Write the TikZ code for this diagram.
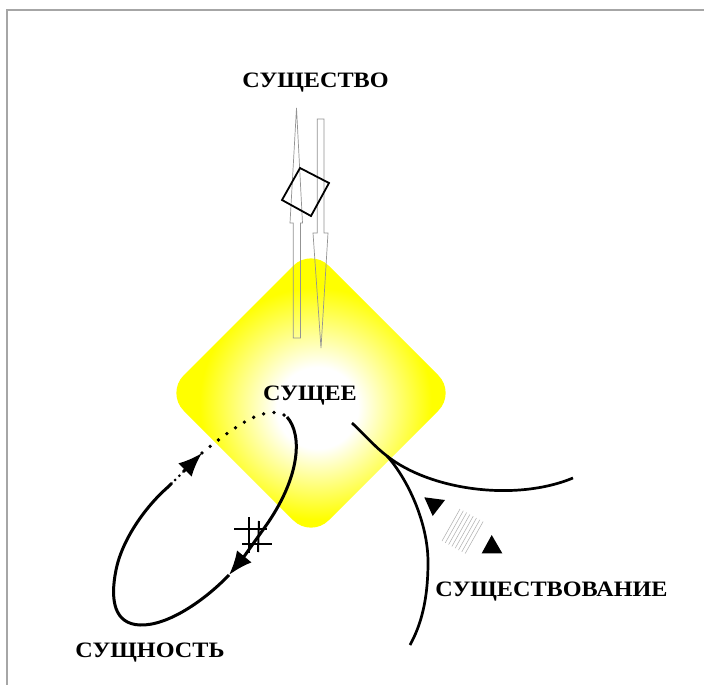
\documentclass[tikz,border=0pt]{standalone}
\usepackage{fontspec}
\setmainfont{Liberation Serif}
\usetikzlibrary{arrows.meta}
\pgfdeclareradialshading{diamshade}{\pgfpoint{1.3bp}{-3.0bp}}{color(0bp)=(white); color(7bp)=(white); color(20bp)=(yellow); color(50bp)=(yellow)}
\tikzset{
  lbl/.style={font=\bfseries\fontsize{22}{22}\selectfont, anchor=base, inner sep=0pt, xscale=1.1},
  needle/.style={draw=gray!85, line width=0.7pt},
  curve/.style={line width=3pt, black},
  hashline/.style={line width=2pt, black},
  tri/.style={fill=black, draw=none},
  hatch/.style={draw=gray!65, line width=0.5pt},
  bigtip/.style={-{Latex[length=24pt,width=19pt]}}
}
\begin{document}
\begin{tikzpicture}[x=1pt,y=-1pt]
\useasboundingbox (0,0) rectangle (704,685);
\fill[white] (0,0) rectangle (704,685);
% frame
\draw[gray!70, line width=1.4pt] (7,685) -- (7,10) -- (704,10);
% diamond
\shade[shading=diamshade, rounded corners=25pt]
  (311,248) -- (456,393) -- (311,538) -- (166,393) -- cycle;
% needles
\draw[needle] (296.5,108) -- (302.5,223) -- (300.5,223) -- (300.5,338) -- (293.3,338) -- (293.3,223) -- (290,223) -- cycle;
\draw[needle] (317.3,119) -- (324,119) -- (324,233) -- (328,233) -- (321,348) -- (313,233) -- (317.3,233) -- cycle;
% rotated square
\draw[line width=1.8pt] (300,168) -- (329,183) -- (311,216) -- (282,200) -- cycle;
% labels
\node[lbl] (sushchestvo) at (315.5,87) {СУЩЕСТВО};
\node[lbl] (sushchee) at (310,400) {СУЩЕЕ};
\node[lbl] (sushchnost) at (150,657) {СУЩНОСТЬ};
\node[lbl] (sushchestvovanie) at (551.5,596) {СУЩЕСТВОВАНИЕ};
% loop
\coordinate (l0) at (287,417);
\coordinate (l1) at (229,575);
\coordinate (l2) at (168,487);
\coordinate (l3) at (202,453);
\draw[curve, bigtip] (l0) .. controls (303,435) and (300,478) .. (265,527) .. controls (255,541) and (243,558) .. (l1);
\draw[curve] (l1) .. controls (205,600) and (168,626) .. (140,625) .. controls (114,624) and (110,600) .. (116,570) .. controls (122,540) and (145,507) .. (l2);
\draw[curve, dash pattern=on 5pt off 5pt on 0pt off 6pt on 0pt off 6pt, line cap=round, bigtip] (l2) -- (l3);
\draw[curve, line width=3.8pt, line cap=round, dash pattern=on 0pt off 10.5pt] (l3) .. controls (235,426) and (268,402) .. (l0);
% hash
\draw[hashline] (249,517) -- (249,553);
\draw[hashline] (259,521) -- (258,552);
\draw[hashline] (234,529) -- (267,529);
\draw[hashline] (242,544) -- (272,544);
% right curves
\coordinate (r0) at (352,423);
\coordinate (r1) at (387,456);
\coordinate (r2) at (573,478);
\coordinate (r3) at (410,645);
\draw[curve, line width=2.7pt] (r0) .. controls (364,434) and (375,447) .. (r1) .. controls (430,490) and (515,502) .. (r2);
\draw[curve, line width=2.7pt] (r1) .. controls (407,478) and (428,522) .. (428,562) .. controls (428,600) and (421,625) .. (r3);
% triangles
\fill[tri] (424.3,497.3) -- (445,500) -- (432.7,516) -- cycle;
\fill[tri] (481.7,553.3) -- (502.3,553.3) -- (491.7,535) -- cycle;
% hatching
\foreach \i in {0,...,7} {
  \draw[hatch] (442+3.3*\i,541+1.8*\i) -- (460+3.3*\i,509+1.8*\i);
}
\end{tikzpicture}
\end{document}
